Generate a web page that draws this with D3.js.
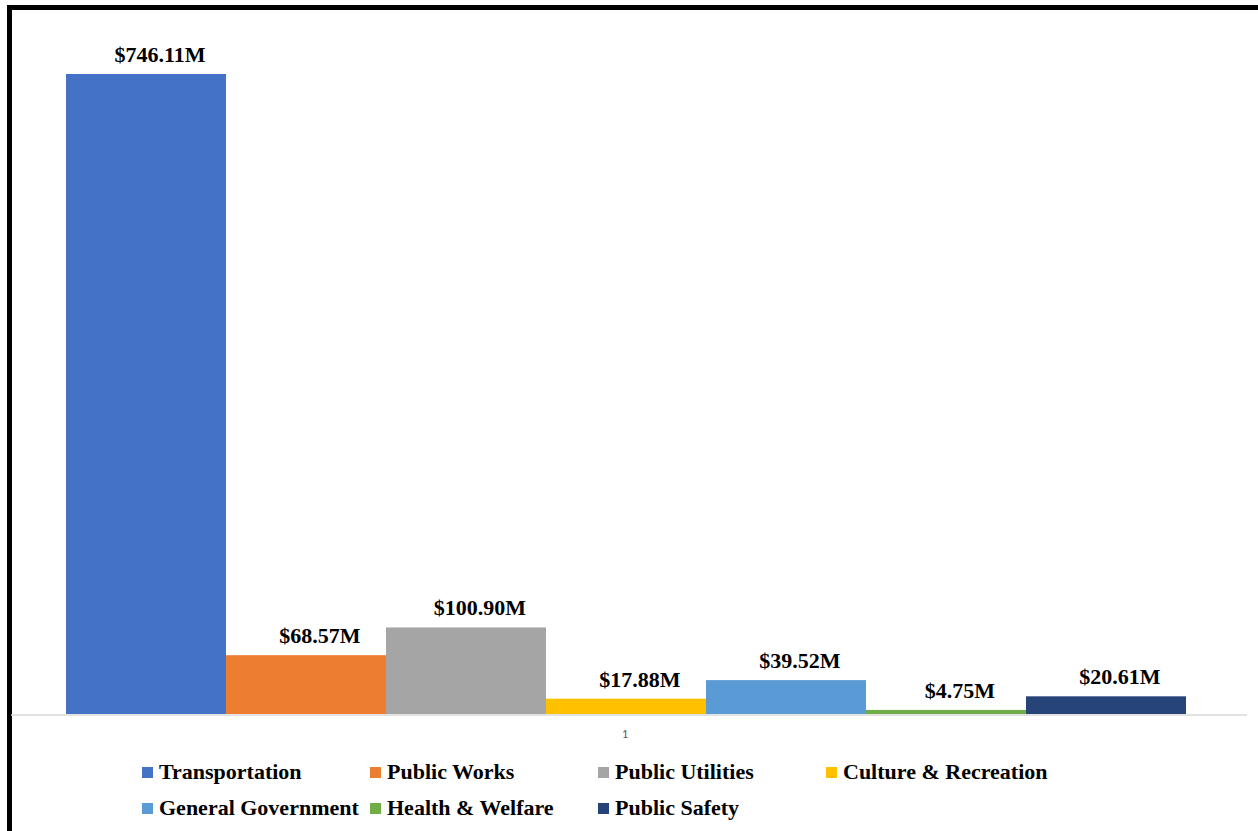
<!DOCTYPE html>
<html>
<head>
<meta charset="utf-8">
<script src="https://cdn.jsdelivr.net/npm/d3@7"></script>
<style>
  body { margin: 0; background: #fff; }
  svg { display: block; }
</style>
</head>
<body>
<div class="chartWrapper"></div>
<script>
// data
var categories = ["1"];
var seriesNames = ["Transportation", "Public Works", "Public Utilities", "Culture & Recreation",
                   "General Government", "Health & Welfare", "Public Safety"];
var seriesValues = [746.11, 68.57, 100.90, 17.88, 39.52, 4.75, 20.61];
var valueLabels = ["$746.11M", "$68.57M", "$100.90M", "$17.88M", "$39.52M", "$4.75M", "$20.61M"];
var seriesColors = ["#4472C4", "#ED7D31", "#A5A5A5", "#FFC000", "#5B9BD5", "#70AD47", "#264478"];

var width = 1258,
    height = 831,
    baseY = 714;

var svg = d3.select(".chartWrapper")
    .append("svg")
    .attr("width", width)
    .attr("height", height);

// frame (only top and left edges visible in the crop)
svg.append("rect")
    .attr("x", 9.5)
    .attr("y", 7.5)
    .attr("width", 1300)
    .attr("height", 900)
    .attr("fill", "none")
    .attr("stroke", "#000")
    .attr("stroke-width", 5);

var yScale = d3.scaleLinear()
    .domain([0, 800])
    .range([baseY, baseY - 800 * (640 / 746.11)]);

var xScale = d3.scaleBand()
    .domain(seriesNames)
    .range([66, 1186])
    .padding(0);

var catScale = d3.scaleBand()
    .domain(categories)
    .range([11, 1239]);

var data = seriesNames.map(function (name, i) {
    return { name: name, value: seriesValues[i], label: valueLabels[i], color: seriesColors[i] };
});

// bars
svg.selectAll(".bar")
    .data(data)
    .enter()
    .append("rect")
    .attr("class", "bar")
    .attr("x", function (d) { return xScale(d.name); })
    .attr("y", function (d) { return yScale(d.value); })
    .attr("width", xScale.bandwidth())
    .attr("height", function (d) { return baseY - yScale(d.value); })
    .attr("fill", function (d) { return d.color; });

// category axis
var xAxis = d3.axisBottom(catScale).tickSize(0).tickPadding(14);
var gAxis = svg.append("g")
    .attr("transform", "translate(0," + (baseY + 1) + ")")
    .call(xAxis);
gAxis.select(".domain")
    .attr("d", "M11,0H1247")
    .attr("stroke", "#d9d9d9")
    .attr("stroke-width", 1.5);
gAxis.selectAll("text")
    .attr("fill", "#595959")
    .style("font-family", "Calibri, 'Liberation Sans', Arial, sans-serif")
    .style("font-size", "12px");

// value labels
svg.selectAll(".valLabel")
    .data(data)
    .enter()
    .append("text")
    .attr("class", "valLabel")
    .attr("x", function (d) { return xScale(d.name) + xScale.bandwidth() / 2 + 14; })
    .attr("y", function (d) { return yScale(d.value) - 12; })
    .attr("text-anchor", "middle")
    .attr("fill", "#000")
    .style("font-family", "'Liberation Serif', 'Times New Roman', serif")
    .style("font-weight", "bold")
    .style("font-size", "22px")
    .text(function (d) { return d.label; });

// legend
var colStep = 228,
    rowStep = 36;
var gLegend = svg.selectAll(".legendItem")
    .data(data)
    .enter()
    .append("g")
    .attr("class", "legendItem")
    .attr("transform", function (d, i) {
        return "translate(" + (142 + (i % 4) * colStep) + "," + (779 + Math.floor(i / 4) * rowStep) + ")";
    });

gLegend.append("rect")
    .attr("x", 0)
    .attr("y", -12)
    .attr("width", 11)
    .attr("height", 11)
    .attr("fill", function (d) { return d.color; });

gLegend.append("text")
    .attr("x", 17)
    .attr("y", 0)
    .attr("fill", "#000")
    .style("font-family", "'Liberation Serif', 'Times New Roman', serif")
    .style("font-weight", "bold")
    .style("font-size", "22px")
    .text(function (d) { return d.name; });
</script>
</body>
</html>
